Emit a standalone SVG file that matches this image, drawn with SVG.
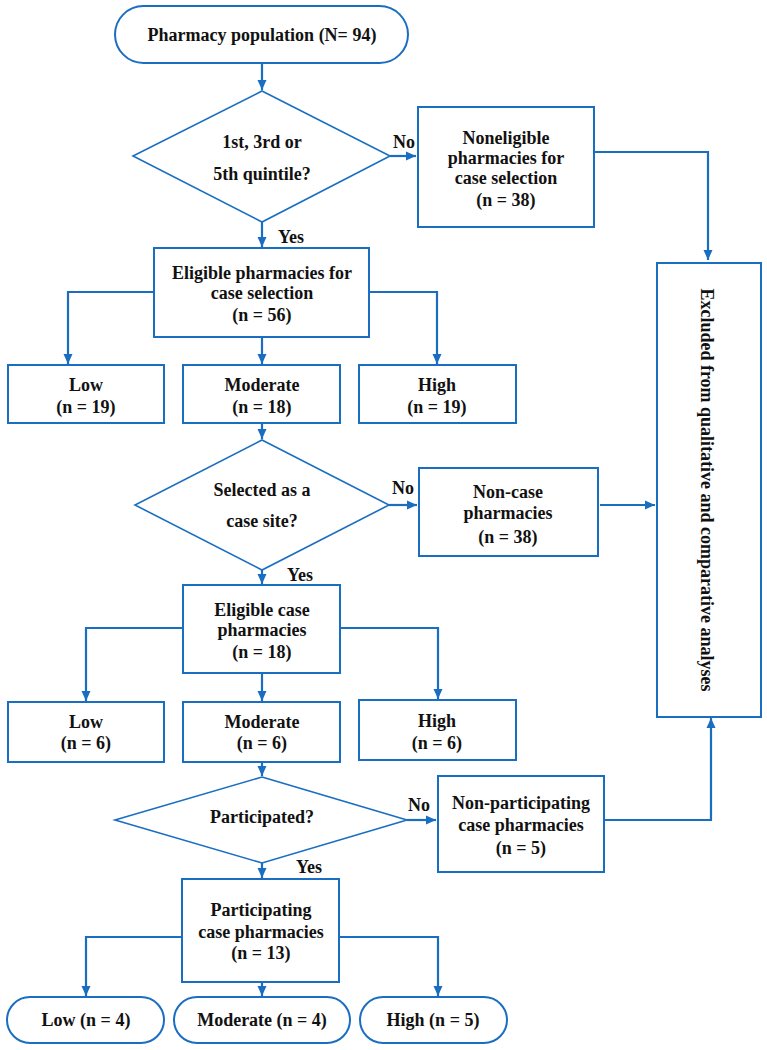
<svg xmlns="http://www.w3.org/2000/svg" width="767" height="1050" viewBox="0 0 767 1050">
<style>
.box{fill:#fff;stroke:#1a6ec2;stroke-width:2}
.dia{fill:#fff;stroke:#1a6ec2;stroke-width:1.6}
.c{fill:none;stroke:#1a6ec2;stroke-width:2.2}
text{font-family:"Liberation Serif","Times New Roman",serif;font-weight:bold;font-size:18px;fill:#111;text-anchor:middle}
</style>
<defs>
<marker id="a" markerUnits="userSpaceOnUse" markerWidth="10" markerHeight="10" viewBox="0 0 10 10" refX="10" refY="5" orient="auto">
<path d="M0,0.5 L10,5 L0,9.5 Z" fill="#1a6ec2"/>
</marker>
</defs>
<g id="connectors">
<line class="c" x1="262" y1="63" x2="262" y2="90" marker-end="url(#a)"/>
<line class="c" x1="390" y1="156" x2="416" y2="156" marker-end="url(#a)"/>
<polyline class="c" points="594,152 708,152 708,260" marker-end="url(#a)"/>
<line class="c" x1="262" y1="222" x2="262" y2="247" marker-end="url(#a)"/>
<polyline class="c" points="154,292 68,292 68,364" marker-end="url(#a)"/>
<line class="c" x1="262" y1="337" x2="262" y2="364" marker-end="url(#a)"/>
<polyline class="c" points="369,292 437,292 437,364" marker-end="url(#a)"/>
<line class="c" x1="262" y1="423" x2="262" y2="439" marker-end="url(#a)"/>
<line class="c" x1="389" y1="505" x2="417" y2="505" marker-end="url(#a)"/>
<line class="c" x1="600" y1="505" x2="655" y2="505" marker-end="url(#a)"/>
<line class="c" x1="262" y1="570" x2="262" y2="584" marker-end="url(#a)"/>
<polyline class="c" points="183,628 86,628 86,701" marker-end="url(#a)"/>
<line class="c" x1="262" y1="673" x2="262" y2="701" marker-end="url(#a)"/>
<polyline class="c" points="340,628 438,628 438,699" marker-end="url(#a)"/>
<line class="c" x1="262" y1="762" x2="262" y2="776" marker-end="url(#a)"/>
<line class="c" x1="407" y1="820" x2="436" y2="820" marker-end="url(#a)"/>
<polyline class="c" points="604,820 711,820 711,718" marker-end="url(#a)"/>
<line class="c" x1="262" y1="862" x2="262" y2="878" marker-end="url(#a)"/>
<polyline class="c" points="182,937 86,937 86,996" marker-end="url(#a)"/>
<line class="c" x1="262" y1="982" x2="262" y2="996" marker-end="url(#a)"/>
<polyline class="c" points="339,937 438,937 438,996" marker-end="url(#a)"/>
</g>
<g id="start"><rect class="box" x="115" y="6" width="293" height="57" rx="28.5"/><text x="262" y="41">Pharmacy population (N= 94)</text></g>
<g id="q1"><polygon class="dia" points="262,91 390,156 262,222 133,156"/><text x="262" y="148">1st, 3rd or</text><text x="262" y="180">5th quintile?</text></g>
<g id="lbl1"><text x="404" y="148">No</text><text x="291" y="243">Yes</text></g>
<g id="nonelig"><rect class="box" x="418" y="107" width="176" height="120"/><text x="506" y="144">Noneligible</text><text x="506" y="164">pharmacies for</text><text x="506" y="184">case selection</text><text x="506" y="206">(n = 38)</text></g>
<g id="excluded"><rect class="box" x="657" y="263" width="104" height="454"/><text transform="translate(701,490) rotate(90)">Excluded from qualitative and comparative analyses</text></g>
<g id="elig"><rect class="box" x="154" y="248" width="215" height="89"/><text x="262" y="279">Eligible pharmacies for</text><text x="262" y="299">case selection</text><text x="262" y="321">(n = 56)</text></g>
<g id="low1"><rect class="box" x="8" y="365" width="156" height="58"/><text x="86" y="391">Low</text><text x="86" y="413">(n = 19)</text></g>
<g id="mod1"><rect class="box" x="183" y="365" width="157" height="58"/><text x="262" y="391">Moderate</text><text x="262" y="413">(n = 18)</text></g>
<g id="high1"><rect class="box" x="359" y="365" width="157" height="58"/><text x="437" y="391">High</text><text x="437" y="413">(n = 19)</text></g>
<g id="q2"><polygon class="dia" points="262,440 389,505 262,570 135,505"/><text x="262" y="496">Selected as a</text><text x="262" y="527">case site?</text></g>
<g id="lbl2"><text x="403" y="494">No</text><text x="300" y="581">Yes</text></g>
<g id="noncase"><rect class="box" x="419" y="468" width="179" height="88"/><text x="508" y="498">Non-case</text><text x="508" y="519">pharmacies</text><text x="508" y="543">(n = 38)</text></g>
<g id="eligcase"><rect class="box" x="183" y="585" width="157" height="88"/><text x="262" y="616">Eligible case</text><text x="262" y="636">pharmacies</text><text x="262" y="658">(n = 18)</text></g>
<g id="low2"><rect class="box" x="8" y="702" width="156" height="60"/><text x="86" y="728">Low</text><text x="86" y="749">(n = 6)</text></g>
<g id="mod2"><rect class="box" x="183" y="702" width="157" height="60"/><text x="262" y="728">Moderate</text><text x="262" y="749">(n = 6)</text></g>
<g id="high2"><rect class="box" x="359" y="700" width="157" height="60"/><text x="437" y="727">High</text><text x="437" y="749">(n = 6)</text></g>
<g id="q3"><polygon class="dia" points="262,777 407,820 262,863 115,820"/><text x="262" y="823">Participated?</text></g>
<g id="lbl3"><text x="419" y="811">No</text><text x="309" y="873">Yes</text></g>
<g id="nonpart"><rect class="box" x="438" y="776" width="166" height="96"/><text x="521" y="809">Non-participating</text><text x="521" y="831">case pharmacies</text><text x="521" y="854">(n = 5)</text></g>
<g id="part"><rect class="box" x="182" y="879" width="157" height="103"/><text x="261" y="916">Participating</text><text x="261" y="938">case pharmacies</text><text x="261" y="959">(n = 13)</text></g>
<g id="low3"><rect class="box" x="7" y="997" width="157" height="46" rx="23"/><text x="86" y="1026">Low (n = 4)</text></g>
<g id="mod3"><rect class="box" x="174" y="997" width="176" height="46" rx="23"/><text x="262" y="1026">Moderate (n = 4)</text></g>
<g id="high3"><rect class="box" x="360" y="997" width="147" height="46" rx="23"/><text x="433" y="1026">High (n = 5)</text></g>
</svg>
